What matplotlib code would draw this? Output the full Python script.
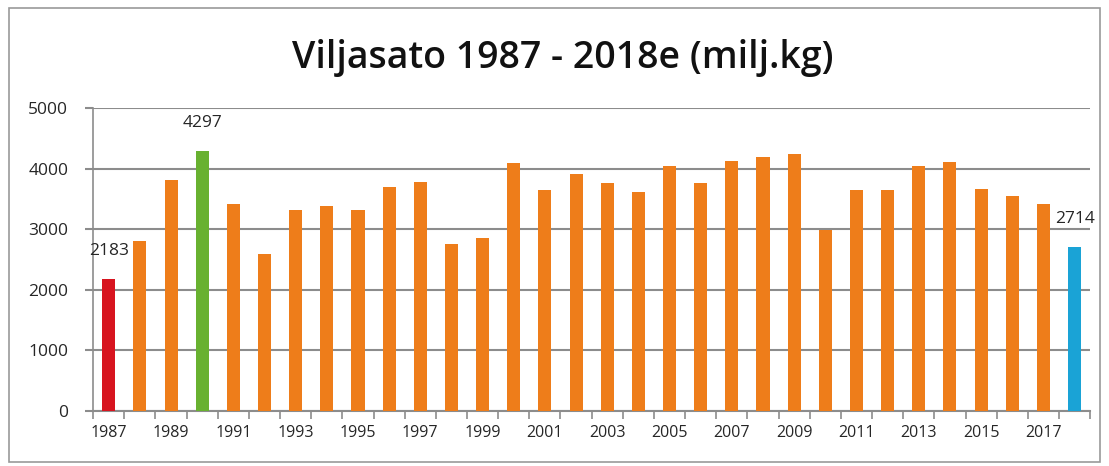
import matplotlib.pyplot as plt
from matplotlib.patches import Rectangle
from matplotlib.ticker import FixedLocator

plt.rcParams['font.family'] = ['Open Sans', 'DejaVu Sans']

years = list(range(1987, 2019))
harvest = [2183, 2800, 3810, 4297, 3415, 2590, 3325, 3385, 3325, 3690, 3780,
           2765, 2860, 4090, 3655, 3905, 3760, 3615, 4045, 3760, 4125, 4200,
           4245, 2985, 3655, 3655, 4045, 4105, 3665, 3550, 3415, 2714]
labelled = {1987: '2183', 1990: '4297', 2018: '2714'}

orange = '#EE7D1A'
colors = [orange] * len(years)
colors[0] = '#D7141F'
colors[3] = '#68B130'
colors[-1] = '#1AA3D6'

fig = plt.figure(figsize=(11.09, 4.66), dpi=100)
ax = fig.add_axes([0.084, 0.118, 0.899, 0.650])

x = list(range(len(years)))
ax.bar(x, harvest, width=0.42, color=colors, zorder=3)

for i, y in enumerate(years):
    if y in labelled:
        ax.annotate(labelled[y], (i, harvest[i]), xytext=(0, 14), textcoords='offset points',
                    ha='center', va='bottom', fontsize=12.5, color='#262626')

ax.set_xlim(-0.5, len(years) - 0.5)
ax.set_ylim(0, 5000)
ax.set_yticks(range(0, 5001, 1000))
ax.yaxis.grid(True, color='#8c8c8c', linewidth=1.5, zorder=0)
ax.tick_params(axis='y', length=6, width=1.5, color='#8c8c8c', labelsize=12.5, pad=12,
               labelcolor='#262626')

ax.set_xticks(x[::2])
ax.set_xticklabels([str(y) for y in years[::2]])
ax.xaxis.set_minor_locator(FixedLocator([i - 0.5 for i in range(len(years) + 1)]))
ax.tick_params(axis='x', which='major', length=0, labelsize=11.5, pad=10, labelcolor='#262626')
ax.tick_params(axis='x', which='minor', length=6, width=1.2, color='#8c8c8c')

for side in ['top', 'right']:
    ax.spines[side].set_visible(False)
ax.spines['left'].set_color('#8c8c8c')
ax.spines['bottom'].set_color('#8c8c8c')
ax.spines['left'].set_linewidth(1.2)
ax.spines['bottom'].set_linewidth(1.5)

fig.text(0.507, 0.875, 'Viljasato 1987 - 2018e (milj.kg)', ha='center', va='center',
         fontsize=27, fontweight='semibold', color='#111111')

fig.patches.append(Rectangle((0.008, 0.008), 0.984, 0.975, transform=fig.transFigure,
                             fill=False, edgecolor='#9a9a9a', linewidth=1.2))

plt.savefig('out.png', dpi=100)
